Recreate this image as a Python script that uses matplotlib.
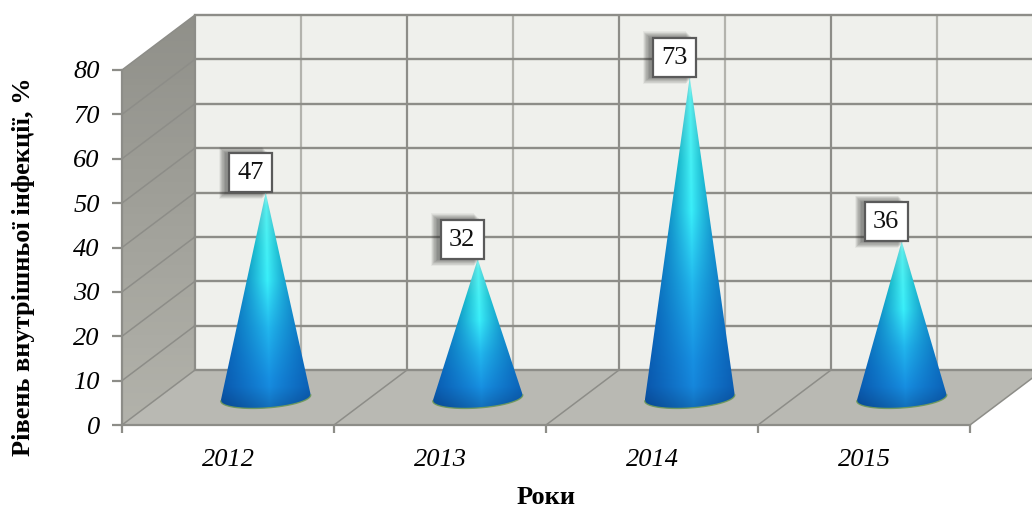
import numpy as np
import matplotlib
matplotlib.use("Agg")
import matplotlib.pyplot as plt
from matplotlib.colors import to_rgb
from matplotlib.patches import Polygon, Rectangle

years = ["2012", "2013", "2014", "2015"]
values = [47, 32, 73, 36]
y_ticks = [0, 10, 20, 30, 40, 50, 60, 70, 80]
y_label = "Рівень внутрішньої інфекції, %"
x_label = "Роки"

plt.rcParams["font.family"] = ["Liberation Serif", "DejaVu Serif"]

W, H = 1032, 509
fig = plt.figure(figsize=(W / 100, H / 100), dpi=100)
ax = fig.add_axes([122 / W, (H - 425) / H, (970 - 122) / W, (425 - 70) / H])
n = len(years)
ymax = y_ticks[-1]

PX_X = 1 / 212.0    # one pixel in category units
PX_Y = 1 / 4.4375   # one pixel in value units

# Oblique projection: offset of the back wall from the front plane, in data units
DX = 73 * PX_X
DY = 55 * PX_Y
GRID_DARK = "#8d8d88"
GRID_LIGHT = "#b3b3ad"

# Back wall and floor
ax.add_patch(Rectangle((DX, DY), n + 0.3, ymax, fc="#eff0ec", ec="none", zorder=1, clip_on=False))
ax.add_patch(Polygon([(0, 0), (n, 0), (n + DX, DY), (DX, DY)],
                     fc="#b9b9b3", ec="none", zorder=1.5, clip_on=False))

# Left wall, slightly lighter towards the floor
left_wall = Polygon([(0, 0), (DX, DY), (DX, DY + ymax), (0, ymax)],
                    fc="none", ec="none", clip_on=False)
ax.add_patch(left_wall)
shade = np.linspace(0, 1, 64)[:, None]
left_rgb = (1 - shade) * np.array([0.565, 0.565, 0.54]) + shade * np.array([0.70, 0.70, 0.67])
wall_im = ax.imshow(left_rgb[:, None, :], extent=(0, DX, 0, DY + ymax), origin="upper",
                    aspect="auto", zorder=1.6)
wall_im.set_clip_box(fig.bbox)
wall_im.set_clip_path(left_wall)

# Wall grid: heavy lines on each value and category, lighter mid-category lines
for i in range(2 * n + 1):
    major = i % 2 == 0
    xb = i / 2 + DX
    ax.plot([xb, xb], [DY, DY + ymax], color=GRID_DARK if major else GRID_LIGHT,
            lw=1.6, zorder=2, clip_on=False, solid_capstyle="butt")
for v in y_ticks:
    ax.plot([DX, n + 0.3], [DY + v, DY + v], color=GRID_DARK, lw=1.7, zorder=2.1, clip_on=False)
    ax.plot([0, DX], [v, DY + v], color=GRID_DARK, lw=1.1, zorder=2.1, clip_on=False)
for i in range(1, n + 1):
    ax.plot([i, i + DX], [0, DY], color=GRID_DARK, lw=1.1, zorder=2.1, clip_on=False)


def lerp_stops(t, stops):
    pos = [s[0] for s in stops]
    return np.stack([np.interp(t, pos, [s[1][c] for s in stops]) for c in range(3)], axis=-1)


CENTER_STOPS = [(0, to_rgb("#a6fbf6")), (0.06, to_rgb("#56f2f0")), (0.4, to_rgb("#3af0fa")),
                (0.62, to_rgb("#22b8ee")), (0.85, to_rgb("#1790e2")), (1, to_rgb("#1580d8"))]
EDGE_STOPS = [(0, to_rgb("#70dfe0")), (0.25, to_rgb("#18b8cc")), (0.5, to_rgb("#0f86c8")),
              (0.75, to_rgb("#0a66bb")), (1, to_rgb("#0a52a8"))]

RX = 45 * PX_X      # base half-width
RY = 10 * PX_Y      # base half-height
TILT = 3 * PX_Y     # the base ellipse rises slightly to the right
OFF_X = 0.178       # cone axis sits mid-depth on the floor
OFF_Y = 24 * PX_Y   # level the value is measured from
BASE_Y = 27 * PX_Y  # centre of the base ellipse


def draw_cone(i, value):
    xc = i + 0.5 + OFF_X
    tip = OFF_Y + value

    arc = np.linspace(0, np.pi, 60)
    arc_x = xc - RX * np.cos(arc)
    arc_y = BASE_Y - RY * np.sin(arc) - TILT * np.cos(arc)
    outline = Polygon([(xc, tip)] + list(zip(arc_x, arc_y)), closed=True,
                      fc="none", ec="none", clip_on=False)
    ax.add_patch(outline)

    # Shading follows the cone: columns are normalised by the width at each height
    xs = np.linspace(xc - RX, xc + RX, 200)
    ys = np.linspace(tip, BASE_Y - RY - TILT, 260)
    xg, yg = np.meshgrid(xs, ys)
    half = RX * np.clip((tip - yg) / (tip - BASE_Y), 0.004, 1)
    ug = np.clip((xg - xc) / half, -1, 1)
    tg = np.clip((tip - yg) / (tip - ys[-1]), 0, 1)
    center = lerp_stops(tg, CENTER_STOPS)
    edge = lerp_stops(tg, EDGE_STOPS)
    w = (np.abs(ug - 0.08) / 1.08)[..., None] ** 0.9
    img = center * (1 - w) + edge * w
    band = np.clip((BASE_Y + 2.5 - yg) / 7, 0, 1)[..., None]
    img = img * (1 - 0.2 * band)
    im = ax.imshow(img, extent=(xc - RX, xc + RX, ys[-1], tip), origin="upper",
                   aspect="auto", zorder=3, interpolation="bilinear")
    im.set_clip_box(fig.bbox)
    im.set_clip_path(outline)
    ax.plot(arc_x, arc_y, color="#6f9a5a", lw=1.0, zorder=3.2, alpha=0.9)

    # Value label box with a soft shadow falling to the left
    bw, bh = 43 * PX_X, 39 * PX_Y
    bx = xc - 37 * PX_X
    for k in range(12):
        grow = (12 - k) * 0.55
        ax.add_patch(Rectangle((bx - (grow + 3) * PX_X, tip - grow * PX_Y),
                               bw, bh + 2 * grow * PX_Y,
                               fc="#303030", ec="none", alpha=0.055, zorder=4, clip_on=False))
    ax.add_patch(Rectangle((bx, tip), bw, bh, fc="white", ec="#5a5a5a", lw=1.6, zorder=5,
                           clip_on=False))
    ax.text(bx + bw / 2, tip + bh / 2 - 0.1, str(value), ha="center", va="center",
            fontsize=19, color="#111111", zorder=6, clip_on=False)


for i, v in enumerate(values):
    draw_cone(i, v)

ax.set_xlim(0, n)
ax.set_ylim(0, ymax)
ax.patch.set_visible(False)

for side in ("top", "right"):
    ax.spines[side].set_visible(False)
for side in ("left", "bottom"):
    ax.spines[side].set_color(GRID_DARK)
    ax.spines[side].set_linewidth(1.6)
    ax.spines[side].set_zorder(2.5)

ax.set_xticks(range(n + 1))
ax.set_xticklabels([])
ax.set_xticks(np.arange(n) + 0.5, labels=years, minor=True, fontsize=19, style="italic")
ax.tick_params(axis="x", which="major", length=6, width=1.6, color=GRID_DARK)
ax.tick_params(axis="x", which="minor", length=0, pad=17)
ax.set_yticks(y_ticks)
ax.set_yticklabels([str(v) for v in y_ticks], fontsize=19, style="italic")
ax.tick_params(axis="y", length=7, width=1.6, color=GRID_DARK, pad=9)

fig.text(546 / W, 1 - 498 / H, x_label, ha="center", va="center", fontsize=19, fontweight="bold")
fig.text(24 / W, 1 - 267 / H, y_label, ha="center", va="center", rotation=90,
         fontsize=19, fontweight="bold")

fig.savefig("out.png", dpi=100, facecolor="white")
